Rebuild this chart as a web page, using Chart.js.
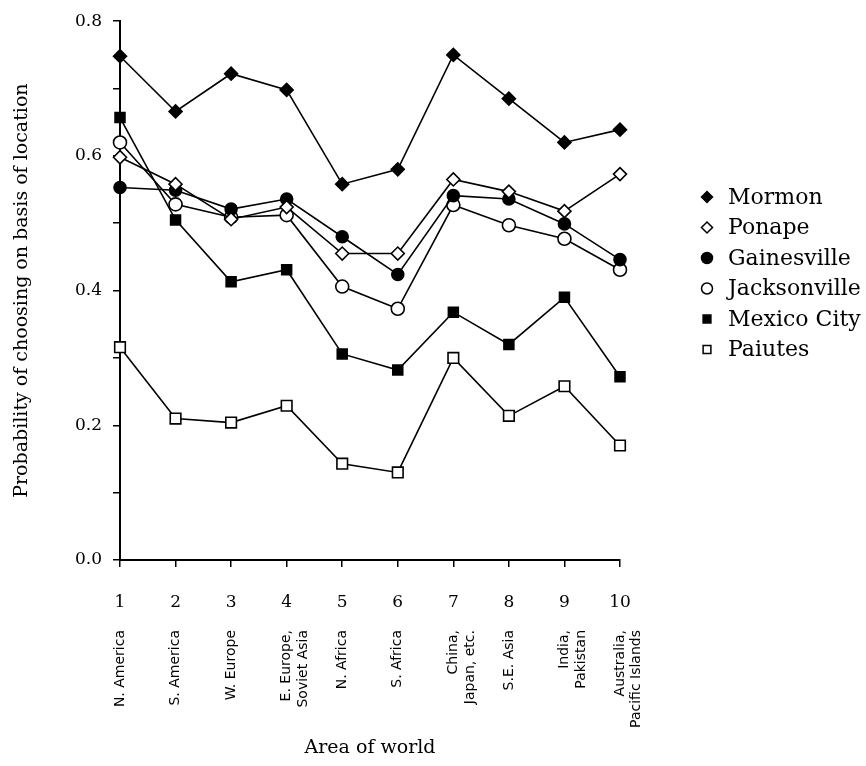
<!DOCTYPE html>
<html>
<head>
<meta charset="utf-8">
<script src="https://cdn.jsdelivr.net/npm/chart.js@4.4.0/dist/chart.umd.min.js"></script>
<style>
  body { margin: 0; background: #fff; }
</style>
</head>
<body>
<canvas id="chart" width="866" height="766"></canvas>
<script>
// area numbers and names along the x axis
const areaNumbers = ['1', '2', '3', '4', '5', '6', '7', '8', '9', '10'];
const areaNames = ['N. America', 'S. America', 'W. Europe', ['E. Europe,', 'Soviet Asia'], 'N. Africa',
  'S. Africa', ['China,', 'Japan, etc.'], 'S.E. Asia', ['India,', 'Pakistan'], ['Australia,', 'Pacific Islands']];

// probability of choosing on basis of location, per group
const mormon       = [0.748, 0.666, 0.722, 0.698, 0.558, 0.580, 0.750, 0.685, 0.620, 0.639];
const ponape       = [0.598, 0.558, 0.506, 0.524, 0.455, 0.455, 0.565, 0.547, 0.518, 0.573];
const gainesville  = [0.553, 0.549, 0.521, 0.536, 0.480, 0.424, 0.541, 0.536, 0.499, 0.446];
const jacksonville = [0.620, 0.528, 0.509, 0.512, 0.406, 0.373, 0.527, 0.497, 0.477, 0.431];
const mexicoCity   = [0.657, 0.505, 0.413, 0.431, 0.306, 0.282, 0.368, 0.320, 0.390, 0.272];
const paiutes      = [0.316, 0.210, 0.204, 0.229, 0.143, 0.130, 0.300, 0.214, 0.258, 0.170];

const yTickValues = [0.0, 0.2, 0.4, 0.6, 0.8];

const serif = '"DejaVu Serif", "Liberation Serif", serif';

function series(label, data, style, filled, radius) {
  return {
    label: label,
    data: data,
    borderColor: '#000',
    borderWidth: 1.6,
    pointStyle: style,
    pointRadius: radius,
    pointHoverRadius: radius,
    pointBorderWidth: 1.6,
    pointBorderColor: '#000',
    pointBackgroundColor: filled ? '#000' : '#fff',
    tension: 0,
    fill: false
  };
}

function drawMarker(ctx, style, filled, x, y, r) {
  ctx.beginPath();
  if (style === 'rectRot') {
    ctx.moveTo(x, y - r); ctx.lineTo(x + r, y); ctx.lineTo(x, y + r); ctx.lineTo(x - r, y); ctx.closePath();
  } else if (style === 'rect') {
    const s = r * Math.SQRT1_2;
    ctx.rect(x - s, y - s, 2 * s, 2 * s);
  } else {
    ctx.arc(x, y, r, 0, Math.PI * 2);
  }
  ctx.fillStyle = filled ? '#000' : '#fff';
  ctx.fill();
  ctx.lineWidth = 1.5;
  ctx.strokeStyle = '#000';
  ctx.stroke();
}

const sideLegend = {
  id: 'sideLegend',
  afterDraw(chart) {
    const ctx = chart.ctx;
    ctx.save();
    chart.data.datasets.forEach((ds, i) => {
      const y = 197 + i * 30.5;
      drawMarker(ctx, ds.pointStyle, ds.pointBackgroundColor === '#000', 707, y, 5.5);
      ctx.fillStyle = '#000';
      ctx.font = '22px ' + serif;
      ctx.textBaseline = 'middle';
      ctx.textAlign = 'left';
      ctx.fillText(ds.label, 728, y + 1);
    });
    ctx.restore();
  }
};

new Chart(document.getElementById('chart'), {
  type: 'line',
  data: {
    labels: areaNumbers,
    datasets: [
      series('Mormon', mormon, 'rectRot', true, 6.5),
      series('Ponape', ponape, 'rectRot', false, 6.5),
      series('Gainesville', gainesville, 'circle', true, 6),
      series('Jacksonville', jacksonville, 'circle', false, 6.5),
      series('Mexico City', mexicoCity, 'rect', true, 7),
      series('Paiutes', paiutes, 'rect', false, 7.5)
    ]
  },
  options: {
    responsive: false,
    animation: false,
    layout: { padding: { top: 18, right: 246, left: 0, bottom: 0 } },
    plugins: {
      legend: { display: false },
      tooltip: { enabled: false }
    },
    scales: {
      x: {
        type: 'category',
        labels: areaNumbers,
        position: 'bottom',
        weight: 0,
        offset: false,
        grid: { drawOnChartArea: false, color: '#000', tickLength: 7, lineWidth: 1.5 },
        border: { color: '#000', width: 2 },
        ticks: { color: '#000', font: { family: serif, size: 17 }, padding: 25, maxRotation: 0, autoSkip: false },
        afterFit(scale) { scale.height = 52; }
      },
      x2: {
        type: 'category',
        labels: areaNames,
        position: 'bottom',
        weight: 1,
        offset: false,
        grid: { display: false, drawTicks: false },
        border: { display: false },
        ticks: { color: '#000', font: { family: '"DejaVu Sans", sans-serif', size: 14 }, padding: 18,
                 minRotation: 90, maxRotation: 90, autoSkip: false, lineHeight: 1.1 },
        title: { display: true, text: 'Area of world', color: '#000', font: { family: serif, size: 19 },
                 padding: { top: 0, bottom: 7 } },
        afterFit(scale) { scale.height = 154; }
      },
      y: {
        min: 0,
        max: 0.8,
        grid: { drawOnChartArea: false, color: '#000', tickLength: 7, lineWidth: 1.5 },
        border: { color: '#000', width: 2 },
        ticks: {
          stepSize: 0.1,
          color: '#000',
          font: { family: serif, size: 17 },
          padding: 11,
          callback: (v) => {
            const t = yTickValues.find(tv => Math.abs(tv - v) < 1e-6);
            return t === undefined ? '' : t.toFixed(1);
          }
        },
        title: { display: true, text: 'Probability of choosing on basis of location', color: '#000',
                 font: { family: serif, size: 19 }, padding: { top: 11, bottom: 0 } },
        afterFit(scale) { scale.width = 120; }
      }
    }
  },
  plugins: [sideLegend]
});
</script>
</body>
</html>
